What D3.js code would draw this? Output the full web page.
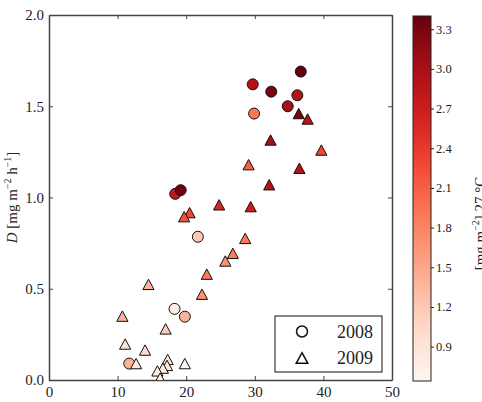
<!DOCTYPE html>
<html>
<head>
<meta charset="utf-8">
<script src="https://cdn.jsdelivr.net/npm/d3@7"></script>
<style>
  body { margin: 0; background: #fff; }
  svg { display: block; }
</style>
</head>
<body>
<svg id="chart" width="482" height="402"></svg>
<script>
// ---- data ----
const xTicks = [0, 10, 20, 30, 40, 50];
const yTicks = [0.0, 0.5, 1.0, 1.5, 2.0];
const cbTicks = [0.9, 1.2, 1.5, 1.8, 2.1, 2.4, 2.7, 3.0, 3.3];
const cbDomain = [0.64, 3.40];
const legendLabels = ["2008", "2009"];

// 2008 (circles)
const x2008 = [36.7, 29.7, 32.4, 36.2, 34.8, 29.9, 18.4, 19.2, 21.7, 18.3, 19.8, 11.7];
const y2008 = [1.69, 1.62, 1.58, 1.56, 1.50, 1.46, 1.02, 1.04, 0.785, 0.39, 0.347, 0.09];
const c2008 = [3.40, 2.90, 3.30, 2.90, 3.00, 1.90, 2.80, 3.35, 1.20, 0.75, 1.40, 1.40];

// 2009 (triangles)
const x2009 = [36.4, 37.7, 32.3, 39.7, 29.1, 36.5, 32.1, 29.4, 24.8, 20.5, 19.7, 28.6, 26.8, 25.7, 23.0, 22.3,
               14.5, 10.7, 17.0, 11.1, 14.0, 12.7, 17.3, 17.2, 19.8, 16.6, 15.8, 16.2];
const y2009 = [1.46, 1.43, 1.315, 1.26, 1.18, 1.16, 1.07, 0.95, 0.96, 0.917, 0.895, 0.776, 0.694, 0.652, 0.58, 0.47,
               0.524, 0.35, 0.28, 0.197, 0.164, 0.09, 0.113, 0.08, 0.09, 0.065, 0.05, 0.01];
const c2009 = [3.30, 2.90, 3.00, 2.30, 2.10, 2.90, 2.90, 2.70, 2.60, 2.30, 2.20, 1.90, 1.90, 1.70, 1.90, 1.70,
               1.40, 1.40, 1.20, 0.90, 1.00, 0.80, 0.90, 0.85, 0.70, 0.80, 0.80, 0.70];

// ---- layout ----
const FONT = "'Liberation Serif', 'DejaVu Serif', serif";
const svg = d3.select("#chart");
const plot = { left: 49, right: 392, top: 15, bottom: 380 };
const cb = { left: 413, right: 431, top: 16, bottom: 381 };

const x = d3.scaleLinear().domain([0, 50]).range([plot.left, plot.right]);
const y = d3.scaleLinear().domain([0, 2]).range([plot.bottom, plot.top]);
const color = d3.scaleSequential(d3.interpolateReds).domain(cbDomain);

const frameColor = "#444";

svg.append("clipPath").attr("id", "clip").append("rect")
  .attr("x", plot.left).attr("y", plot.top)
  .attr("width", plot.right - plot.left).attr("height", plot.bottom - plot.top);

function styleAxis(g) {
  g.attr("font-family", FONT);
  g.selectAll(".domain").attr("stroke", frameColor).attr("stroke-width", 1.5);
  g.selectAll(".tick line").attr("stroke", frameColor).attr("stroke-width", 1);
  g.selectAll("text").style("font-family", FONT).style("font-size", "15px").attr("fill", "#222");
}

svg.append("g").attr("transform", `translate(0,${plot.bottom})`)
  .call(d3.axisBottom(x).tickValues(xTicks).tickFormat(d3.format("d")).tickSizeInner(-4).tickSizeOuter(0).tickPadding(6))
  .call(styleAxis);
svg.append("g").attr("transform", `translate(0,${plot.top})`)
  .call(d3.axisTop(x).tickValues(xTicks).tickFormat("").tickSizeInner(-4).tickSizeOuter(0))
  .call(styleAxis);
svg.append("g").attr("transform", `translate(${plot.left},0)`)
  .call(d3.axisLeft(y).tickValues(yTicks).tickFormat(d3.format(".1f")).tickSizeInner(-4).tickSizeOuter(0).tickPadding(5))
  .call(styleAxis);
svg.append("g").attr("transform", `translate(${plot.right},0)`)
  .call(d3.axisRight(y).tickValues(yTicks).tickFormat("").tickSizeInner(-4).tickSizeOuter(0))
  .call(styleAxis);

// y label
const yl = svg.append("text")
  .attr("transform", `translate(17,${(plot.top + plot.bottom) / 2}) rotate(-90)`)
  .attr("text-anchor", "middle").style("font-family", FONT).style("font-size", "15px").attr("fill", "#222");
yl.append("tspan").style("font-style", "italic").text("D");
yl.append("tspan").text(" [mg m");
yl.append("tspan").attr("dy", -6).style("font-size", "10px").text("−2");
yl.append("tspan").attr("dy", 6).text(" h");
yl.append("tspan").attr("dy", -6).style("font-size", "10px").text("−1");
yl.append("tspan").attr("dy", 6).text("]");

// marks
const marks = svg.append("g").attr("clip-path", "url(#clip)");
const d2008 = x2008.map((v, i) => ({ x: v, y: y2008[i], c: c2008[i] }));
const d2009 = x2009.map((v, i) => ({ x: v, y: y2009[i], c: c2009[i] }));

marks.selectAll("circle.p08").data(d2008).join("circle")
  .attr("class", "p08")
  .attr("cx", d => x(d.x)).attr("cy", d => y(d.y)).attr("r", 5.5)
  .attr("fill", d => color(d.c)).attr("stroke", "#111").attr("stroke-width", 1);

const tri = (hw, hh) => `M0,${-hh}L${hw},${hh}L${-hw},${hh}Z`;
marks.selectAll("path.p09").data(d2009).join("path")
  .attr("class", "p09")
  .attr("transform", d => `translate(${x(d.x)},${y(d.y)})`)
  .attr("d", tri(5.6, 5.2))
  .attr("fill", d => color(d.c)).attr("stroke", "#111").attr("stroke-width", 1).attr("stroke-linejoin", "miter");

// legend
const lg = svg.append("g");
lg.append("rect").attr("x", 275).attr("y", 316).attr("width", 107).attr("height", 56)
  .attr("fill", "#fff").attr("stroke", "#111").attr("stroke-width", 1);
lg.append("circle").attr("cx", 302).attr("cy", 331.5).attr("r", 5.5)
  .attr("fill", "none").attr("stroke", "#111").attr("stroke-width", 1.5);
lg.append("path").attr("transform", "translate(302,358)").attr("d", tri(5.8, 5.3))
  .attr("fill", "none").attr("stroke", "#111").attr("stroke-width", 1.5);
lg.selectAll("text").data(legendLabels).join("text")
  .attr("x", 373).attr("y", (d, i) => 331.5 + i * 26.5).attr("dy", "0.35em")
  .attr("text-anchor", "end").style("font-family", FONT).style("font-size", "18px").attr("fill", "#222").text(d => d);

// colorbar
const defs = svg.append("defs");
const grad = defs.append("linearGradient").attr("id", "cbgrad")
  .attr("x1", 0).attr("y1", 1).attr("x2", 0).attr("y2", 0);
d3.range(0, 1.0001, 0.05).forEach(t => {
  grad.append("stop").attr("offset", t)
    .attr("stop-color", color(cbDomain[0] + t * (cbDomain[1] - cbDomain[0])));
});
const cbScale = d3.scaleLinear().domain(cbDomain).range([cb.bottom, cb.top]);
svg.append("rect").attr("x", cb.left).attr("y", cb.top)
  .attr("width", cb.right - cb.left).attr("height", cb.bottom - cb.top)
  .attr("fill", "url(#cbgrad)").attr("stroke", "#222").attr("stroke-width", 1);
const cbAxis = svg.append("g").attr("transform", `translate(${cb.right},0)`)
  .call(d3.axisRight(cbScale).tickValues(cbTicks).tickFormat(d3.format(".1f")).tickSizeInner(3).tickSizeOuter(0).tickPadding(2));
cbAxis.attr("font-family", FONT);
cbAxis.select(".domain").remove();
cbAxis.selectAll(".tick line").attr("stroke", "#222");
cbAxis.selectAll("text").style("font-family", FONT).style("font-size", "12.5px").attr("fill", "#222");

// colorbar label (partly beyond the right edge, as in the reference)
const cl = svg.append("text")
  .attr("transform", `translate(485,${(cb.top + cb.bottom) / 2 + 25}) rotate(-90)`)
  .attr("text-anchor", "middle").style("font-family", FONT).style("font-size", "15px").attr("fill", "#222");
cl.append("tspan").text("[mg m");
cl.append("tspan").attr("dy", -6).style("font-size", "10px").text("−2");
cl.append("tspan").attr("dy", 6).text("] 27 °C");
</script>
</body>
</html>
